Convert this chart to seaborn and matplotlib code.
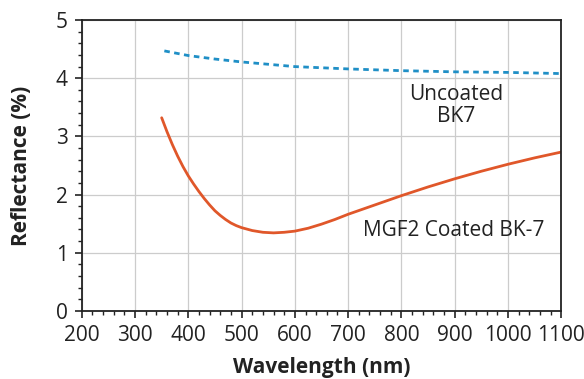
import pandas as pd
import numpy as np
import matplotlib.pyplot as plt
import seaborn as sns
from matplotlib.ticker import MultipleLocator

sns.set_theme(style="whitegrid")
plt.rcParams['font.family'] = ['Open Sans', 'DejaVu Sans']

# 数据
wl_uncoated = [355, 400, 450, 500, 550, 600, 700, 800, 900, 1000, 1100]
r_uncoated = [4.47, 4.39, 4.33, 4.28, 4.24, 4.20, 4.16, 4.13, 4.11, 4.10, 4.08]

wl_coated = [350, 360, 370, 380, 390, 400, 410, 420, 430, 440, 450, 460, 470, 480, 490,
             500, 520, 540, 560, 580, 600, 625, 650, 675, 700, 750, 800, 850, 900,
             950, 1000, 1050, 1100]
r_coated = [3.32, 3.08, 2.86, 2.66, 2.48, 2.32, 2.18, 2.05, 1.93, 1.82, 1.72, 1.64, 1.57,
            1.51, 1.465, 1.43, 1.38, 1.35, 1.34, 1.35, 1.37, 1.42, 1.49, 1.57, 1.66,
            1.82, 1.98, 2.13, 2.27, 2.40, 2.52, 2.63, 2.73]

df_u = pd.DataFrame({'wl': wl_uncoated, 'r': r_uncoated})
df_c = pd.DataFrame({'wl': wl_coated, 'r': r_coated})

fig = plt.figure(figsize=(5.84, 3.79), dpi=100)
ax = fig.add_axes([0.140, 0.180, 0.821, 0.767])

sns.lineplot(data=df_u, x='wl', y='r', ax=ax, color='#1f8fc6', linewidth=2,
             linestyle=(0, (2, 1.6)))
sns.lineplot(data=df_c, x='wl', y='r', ax=ax, color='#e0572a', linewidth=2)

ax.set_xlim(200, 1100)
ax.set_ylim(0, 5)
ax.xaxis.set_major_locator(MultipleLocator(100))
ax.xaxis.set_minor_locator(MultipleLocator(20))
ax.yaxis.set_major_locator(MultipleLocator(1))
ax.yaxis.set_minor_locator(MultipleLocator(0.2))

ax.grid(True, which='major', color='#cccccc', linewidth=0.9)
ax.grid(False, which='minor')
for s in ax.spines.values():
    s.set_color('#222222')
    s.set_linewidth(1.3)

ax.tick_params(axis='both', which='major', direction='out', length=5, width=1.2,
               color='#222222', labelsize=15, labelcolor='#222222',
               bottom=True, left=True)
ax.tick_params(axis='x', which='major', pad=5)
ax.tick_params(axis='y', which='major', pad=5)
ax.tick_params(axis='both', which='minor', direction='out', length=3, width=1,
               color='#222222', bottom=True, left=True)

ax.set_xlabel('Wavelength (nm)', fontsize=15, fontweight='bold', color='#222222', labelpad=8)
ax.set_ylabel('Reflectance (%)', fontsize=15, fontweight='bold', color='#222222', labelpad=17)

ax.text(902, 3.53, 'Uncoated\nBK7', ha='center', va='center', fontsize=15,
        color='#222222', linespacing=1.05)
ax.text(727, 1.38, 'MGF2 Coated BK-7', ha='left', va='center', fontsize=15,
        color='#222222')

plt.savefig('out.png', dpi=100)
plt.close()
